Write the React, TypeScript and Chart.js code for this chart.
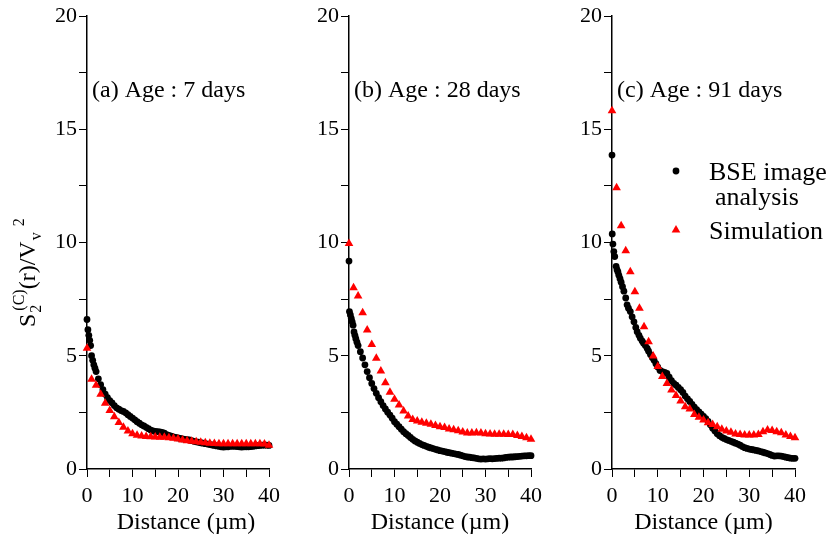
import React, { useEffect, useRef } from 'react';
import { Chart, registerables } from 'chart.js';

Chart.register(...registerables);

// ---------- data ----------
const simDistance = [0,1,2,3,4,5,6,7,8,9,10,11,12,13,14,15,16,17,18,19,20,21,22,23,24,25,26,27,28,29,30,31,32,33,34,35,36,37,38,39,40];

const sim7 = [5.33,3.96,3.7,3.3,2.9,2.58,2.31,2.05,1.84,1.68,1.56,1.49,1.46,1.44,1.42,1.41,1.40,1.40,1.38,1.36,1.33,1.28,1.25,1.22,1.2,1.18,1.16,1.14,1.13,1.12,1.12,1.12,1.12,1.12,1.12,1.12,1.12,1.12,1.12,1.1,1.05];
const sim28 = [9.96,8.0,7.64,6.9,6.14,5.5,4.89,4.33,3.81,3.39,3.08,2.83,2.56,2.34,2.19,2.12,2.06,2.02,1.98,1.92,1.87,1.83,1.77,1.73,1.69,1.63,1.59,1.59,1.6,1.59,1.56,1.54,1.53,1.53,1.53,1.52,1.52,1.48,1.44,1.38,1.31];
const sim91 = [15.82,12.42,10.74,9.64,8.71,7.83,7.1,6.28,5.62,4.99,4.52,4.08,3.78,3.49,3.24,3.0,2.75,2.65,2.41,2.28,2.16,2.04,1.97,1.87,1.75,1.68,1.62,1.55,1.52,1.5,1.5,1.5,1.52,1.65,1.72,1.7,1.65,1.6,1.5,1.43,1.38];

const bse7: [number, number][] = [[0,6.6],[0.2,6.15],[0.4,5.9],[0.6,5.68],[0.8,5.45],[1,5.0],[1.25,4.8],[1.5,4.6],[1.75,4.45],[2,4.3],[2.5,3.98],[3,3.72],[3.5,3.5],[4,3.3],[4.5,3.15],[5,3.02],[5.5,2.92],[6,2.8],[6.5,2.7],[7,2.64],[7.5,2.58],[8,2.54],[8.5,2.48],[9,2.4],[9.5,2.32],[10,2.25],[10.5,2.17],[11,2.09],[11.5,2.02],[12,1.95],[12.5,1.9],[13,1.84],[13.5,1.78],[14,1.72],[14.5,1.68],[15,1.66],[15.5,1.65],[16,1.64],[16.5,1.62],[17,1.58],[17.5,1.52],[18,1.48],[18.5,1.45],[19,1.42],[19.5,1.4],[20,1.37],[20.5,1.35],[21,1.33],[21.5,1.31],[22,1.3],[22.5,1.28],[23,1.25],[23.5,1.22],[24,1.2],[24.5,1.18],[25,1.16],[25.5,1.14],[26,1.12],[26.5,1.1],[27,1.08],[27.5,1.06],[28,1.04],[28.5,1.02],[29,1.0],[29.5,0.98],[30,0.97],[30.5,0.98],[31,0.98],[31.5,1.0],[32,1.0],[32.5,1.0],[33,0.99],[33.5,0.98],[34,0.97],[34.5,0.98],[35,0.98],[35.5,0.98],[36,0.99],[36.5,1.0],[37,1.02],[37.5,1.03],[38,1.04],[38.5,1.05],[39,1.05],[39.5,1.05],[40,1.04]];

const bse28: [number, number][] = [[0,9.18],[0.1,6.95],[0.3,6.8],[0.5,6.65],[0.7,6.5],[0.9,6.35],[1.1,6.05],[1.3,5.9],[1.5,5.75],[1.75,5.6],[2,5.45],[2.5,5.18],[3,4.9],[3.5,4.6],[4,4.3],[4.5,4.03],[5,3.78],[5.5,3.55],[6,3.34],[6.5,3.15],[7,2.97],[7.5,2.8],[8,2.65],[8.5,2.51],[9,2.38],[9.5,2.24],[10,2.09],[10.5,1.98],[11,1.87],[11.5,1.76],[12,1.65],[12.5,1.56],[13,1.48],[13.5,1.39],[14,1.31],[14.5,1.24],[15,1.18],[15.5,1.13],[16,1.08],[16.5,1.04],[17,1.0],[17.5,0.96],[18,0.93],[18.5,0.9],[19,0.87],[19.5,0.84],[20,0.81],[20.5,0.79],[21,0.77],[21.5,0.74],[22,0.72],[22.5,0.7],[23,0.68],[23.5,0.66],[24,0.64],[24.5,0.61],[25,0.58],[25.5,0.55],[26,0.53],[26.5,0.52],[27,0.5],[27.5,0.49],[28,0.47],[28.5,0.45],[29,0.44],[29.5,0.45],[30,0.44],[30.5,0.45],[31,0.46],[31.5,0.45],[32,0.46],[32.5,0.47],[33,0.48],[33.5,0.48],[34,0.49],[34.5,0.51],[35,0.52],[35.5,0.53],[36,0.53],[36.5,0.54],[37,0.55],[37.5,0.56],[38,0.57],[38.5,0.58],[39,0.58],[39.5,0.59],[40,0.59]];

const bse91: [number, number][] = [[0,13.86],[0.05,10.38],[0.2,9.93],[0.4,9.6],[0.6,9.38],[0.9,8.95],[1.1,8.8],[1.3,8.7],[1.5,8.55],[1.75,8.4],[2,8.25],[2.3,8.05],[2.6,7.85],[3,7.55],[3.3,7.25],[3.6,7.1],[4,6.95],[4.4,6.72],[4.8,6.5],[5.2,6.25],[5.5,6.06],[5.9,5.9],[6.2,5.77],[6.6,5.65],[6.9,5.55],[7.3,5.45],[7.7,5.32],[8,5.2],[8.4,5.05],[8.8,4.92],[9.2,4.8],[9.6,4.65],[10,4.5],[10.5,4.35],[11,4.3],[11.5,4.27],[12,4.22],[12.5,4.05],[13,3.9],[13.5,3.78],[14,3.7],[14.5,3.6],[15,3.5],[15.5,3.38],[16,3.22],[16.5,3.1],[17,2.98],[17.5,2.85],[18,2.73],[18.5,2.62],[19,2.52],[19.5,2.42],[20,2.32],[20.5,2.22],[21,2.1],[21.5,1.95],[22,1.8],[22.5,1.68],[23,1.56],[23.5,1.47],[24,1.4],[24.5,1.35],[25,1.3],[25.5,1.26],[26,1.22],[26.5,1.18],[27,1.14],[27.5,1.1],[28,1.05],[28.5,0.99],[29,0.94],[29.5,0.91],[30,0.88],[30.5,0.86],[31,0.84],[31.5,0.82],[32,0.8],[32.5,0.77],[33,0.74],[33.5,0.71],[34,0.68],[34.5,0.64],[35,0.6],[35.5,0.57],[36,0.58],[36.5,0.58],[37,0.57],[37.5,0.55],[38,0.52],[38.5,0.5],[39,0.48],[39.5,0.47],[40,0.47]];

const xTickValues = [0,5,10,15,20,25,30,35,40];
const xTickLabels = [0,10,20,30,40];
const yTickValues = [0,2.5,5,7.5,10,12.5,15,17.5,20];
const yTickLabels = [0,5,10,15,20];

const panelTitles = ['(a) Age : 7 days', '(b) Age : 28 days', '(c) Age : 91 days'];
const xAxisTitle = 'Distance (\u00b5m)';
const legendBse = ['BSE image', 'analysis'];
const legendSim = 'Simulation';

// ---------- layout ----------
const FONT = "'Liberation Serif', 'Times New Roman', serif";
const H = 541;
const PLOT_TOP = 16;
const PLOT_BOTTOM = 469;

const panels = [
  { left: 0, width: 290, plotLeft: 87, plotRight: 269, sim: sim7, bse: bse7, title: panelTitles[0], xTitleDx: 8, yTitle: true, legend: false },
  { left: 290, width: 270, plotLeft: 59, plotRight: 241, sim: sim28, bse: bse28, title: panelTitles[1], xTitleDx: 0, yTitle: false, legend: false },
  { left: 560, width: 269, plotLeft: 52, plotRight: 235, sim: sim91, bse: bse91, title: panelTitles[2], xTitleDx: 0, yTitle: false, legend: true },
];

type PanelCfg = typeof panels[number];

function makeChart(canvas: HTMLCanvasElement, p: PanelCfg) {
  const overlay = {
    id: 'overlay',
    afterDraw(chart: any) {
      const ctx: CanvasRenderingContext2D = chart.ctx;
      const area = chart.chartArea;
      ctx.save();
      ctx.fillStyle = '#000';
      ctx.textBaseline = 'alphabetic';
      ctx.textAlign = 'left';
      ctx.font = `24px ${FONT}`;
      ctx.fillText(p.title, area.left + 5, 97);

      // x axis title
      ctx.textAlign = 'center';
      ctx.textBaseline = 'middle';
      ctx.fillText(xAxisTitle, (area.left + area.right) / 2 + p.xTitleDx, 523);
      ctx.textAlign = 'left';
      ctx.textBaseline = 'alphabetic';

      if (p.legend) {
        ctx.beginPath();
        ctx.arc(area.left + 64, 171, 3.4, 0, Math.PI * 2);
        ctx.fill();
        ctx.font = `26px ${FONT}`;
        ctx.fillText(legendBse[0], area.left + 97, 180);
        ctx.fillText(legendBse[1], area.left + 103, 205);
        ctx.fillStyle = '#ff0000';
        const tx = area.left + 64, ty = 230, r = 5;
        ctx.beginPath();
        ctx.moveTo(tx, ty - r);
        ctx.lineTo(tx + r * 0.866, ty + r * 0.5);
        ctx.lineTo(tx - r * 0.866, ty + r * 0.5);
        ctx.closePath();
        ctx.fill();
        ctx.fillStyle = '#000';
        ctx.fillText(legendSim, area.left + 97, 239);
      }

      if (p.yTitle) {
        ctx.translate(35, 327);
        ctx.rotate(-Math.PI / 2);
        const main = `24px ${FONT}`;
        const small = `16px ${FONT}`;
        let u = 0;
        ctx.font = main;
        ctx.fillText('S', u, 0);
        u += ctx.measureText('S').width + 1;
        ctx.font = small;
        ctx.fillText('2', u, 6);
        u += 2;
        ctx.fillText('(C)', u, -11);
        u += ctx.measureText('(C)').width;
        ctx.font = main;
        ctx.fillText('(r)/V', u, 0);
        u += ctx.measureText('(r)/V').width + 1;
        ctx.font = small;
        ctx.fillText('v', u, 6);
        u += ctx.measureText('v').width + 6;
        ctx.fillText('2', u, -11);
      }
      ctx.restore();
    },
  };

  return new Chart(canvas, {
    type: 'scatter',
    data: {
      datasets: [
        {
          label: legendSim,
          data: simDistance.map((x, i) => ({ x, y: p.sim[i] })),
          pointStyle: 'triangle',
          pointRadius: 5,
          backgroundColor: '#ff0000',
          borderWidth: 0,
          showLine: false,
          clip: false as any,
        },
        {
          label: legendBse.join(' '),
          data: p.bse.map(([x, y]) => ({ x, y })),
          pointStyle: 'circle',
          pointRadius: 3.4,
          backgroundColor: '#000',
          borderWidth: 0,
          showLine: false,
          clip: false as any,
        },
      ],
    },
    options: {
      animation: false,
      responsive: false,
      devicePixelRatio: 1,
      events: [],
      layout: { padding: { left: 0, right: p.width - p.plotRight, top: PLOT_TOP, bottom: 0 } },
      plugins: { legend: { display: false }, tooltip: { enabled: false } },
      scales: {
        x: {
          type: 'linear',
          min: 0,
          max: 40,
          afterFit: (s: any) => { s.height = H - PLOT_BOTTOM; },
          afterBuildTicks: (s: any) => { s.ticks = xTickValues.map((v) => ({ value: v })); },
          ticks: {
            autoSkip: false,
            maxRotation: 0,
            padding: 6,
            color: '#000',
            font: { family: FONT, size: 22 },
            callback: (v: any) => (xTickLabels.includes(Number(v)) ? String(v) : ''),
          },
          grid: { drawOnChartArea: false, drawTicks: true, tickLength: 8, color: '#000', lineWidth: 1 },
          border: { display: true, color: '#000', width: 1.5 },
          title: { display: false },
        },
        y: {
          type: 'linear',
          min: 0,
          max: 20,
          afterFit: (s: any) => { s.width = p.plotLeft; },
          afterBuildTicks: (s: any) => { s.ticks = yTickValues.map((v) => ({ value: v })); },
          ticks: {
            autoSkip: false,
            padding: 2,
            color: '#000',
            font: { family: FONT, size: 22 },
            callback: (v: any) => (yTickLabels.includes(Number(v)) ? String(v) : ''),
          },
          grid: { drawOnChartArea: false, drawTicks: true, tickLength: 8, color: '#000', lineWidth: 1 },
          border: { display: true, color: '#000', width: 1.5 },
        },
      },
    },
    plugins: [overlay],
  } as any);
}

function Panel({ p }: { p: PanelCfg }) {
  const ref = useRef<HTMLCanvasElement | null>(null);
  useEffect(() => {
    if (!ref.current) return;
    const chart = makeChart(ref.current, p);
    return () => chart.destroy();
  }, [p]);
  return (
    <canvas
      ref={ref}
      width={p.width}
      height={H}
      style={{ position: 'absolute', left: p.left, top: 0, width: p.width, height: H }}
    />
  );
}

export default function App() {
  return (
    <div style={{ position: 'absolute', left: 0, top: 0, width: 829, height: H, background: '#fff', overflow: 'hidden' }}>
      {panels.map((p, i) => (
        <Panel key={i} p={p} />
      ))}
    </div>
  );
}
